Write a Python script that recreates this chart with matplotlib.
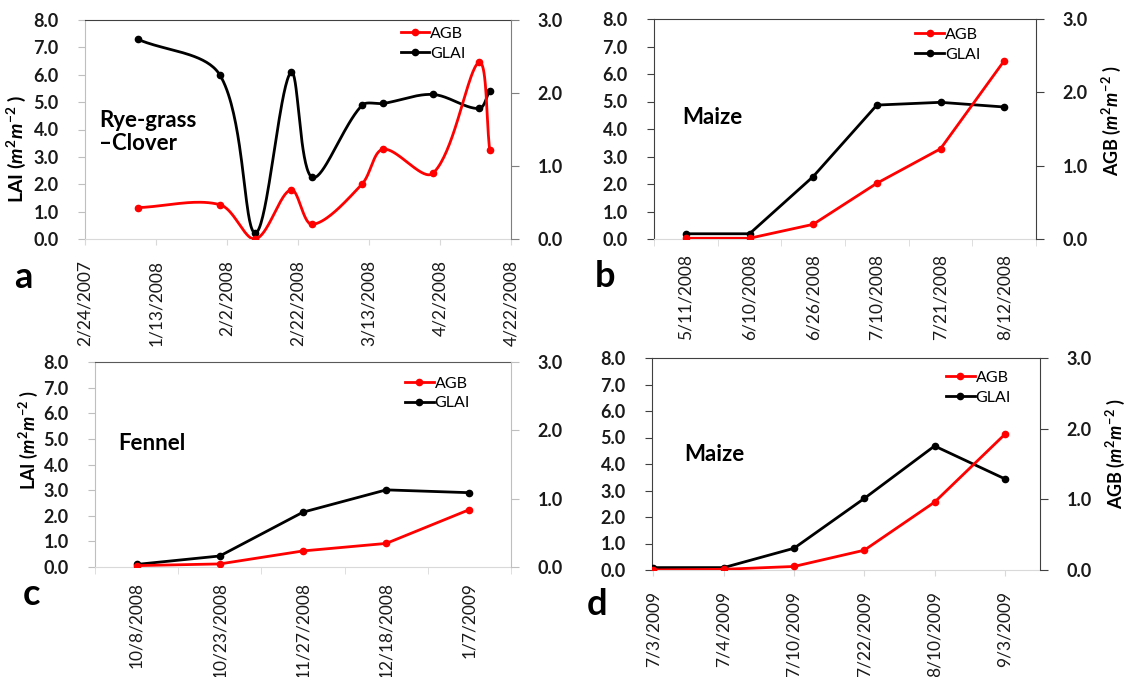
import numpy as np
import matplotlib
matplotlib.use('Agg')
import matplotlib.pyplot as plt
import matplotlib.dates as mdates
from matplotlib.lines import Line2D
from matplotlib.ticker import FixedLocator, FixedFormatter
from datetime import datetime

plt.rcParams['font.family'] = ['Lato', 'DejaVu Sans']
plt.rcParams['mathtext.fontset'] = 'custom'
plt.rcParams['mathtext.rm'] = 'Lato:bold'
plt.rcParams['mathtext.it'] = 'Lato:italic:bold'
plt.rcParams['mathtext.bf'] = 'Lato:bold'

# ---- data ----
# a: Rye-grass - Clover (date axis, smoothed lines)
a_dates = ['2008-01-08', '2008-01-31', '2008-02-10', '2008-02-20', '2008-02-26',
           '2008-03-11', '2008-03-17', '2008-03-31', '2008-04-13', '2008-04-16']
a_glai = [7.29, 5.99, 0.22, 6.09, 2.25, 4.88, 4.95, 5.28, 4.77, 5.42]
a_agb = [0.43, 0.47, 0.0, 0.675, 0.20, 0.75, 1.23, 0.90, 2.42, 1.22]
a_tick_dates = ['2007-12-24', '2008-01-13', '2008-02-02', '2008-02-22',
                '2008-03-13', '2008-04-02', '2008-04-22']
a_tick_labels = ['2/24/2007', '1/13/2008', '2/2/2008', '2/22/2008',
                 '3/13/2008', '4/2/2008', '4/22/2008']

# b: Maize 2008
b_dates = ['5/11/2008', '6/10/2008', '6/26/2008', '7/10/2008', '7/21/2008', '8/12/2008']
b_glai = [0.19, 0.19, 2.27, 4.87, 4.97, 4.80]
b_agb = [0.01, 0.01, 0.20, 0.76, 1.23, 2.43]

# c: Fennel
c_dates = ['10/8/2008', '10/23/2008', '11/27/2008', '12/18/2008', '1/7/2009']
c_glai = [0.10, 0.43, 2.14, 3.01, 2.90]
c_agb = [0.02, 0.045, 0.235, 0.345, 0.84]

# d: Maize 2009
d_dates = ['7/3/2009', '7/4/2009', '7/10/2009', '7/22/2009', '8/10/2009', '9/3/2009']
d_glai = [0.09, 0.09, 0.82, 2.70, 4.68, 3.44]
d_agb = [0.0, 0.01, 0.05, 0.28, 0.96, 1.92]

lai_ticks = [0, 1, 2, 3, 4, 5, 6, 7, 8]
agb_ticks = [0, 1, 2, 3]

RED = '#ff0000'
W, H = 1128, 677
fig = plt.figure(figsize=(W / 100, H / 100), dpi=100)


def px_axes(left, right, top, bottom):
    return fig.add_axes([left / W, (H - bottom) / H, (right - left) / W, (bottom - top) / H])


def smooth(ax, x, y, n=40):
    # bezier through the points in display space (spreadsheet-style smoothed line)
    p = ax.transData.transform(np.column_stack([x, y]))
    d = np.hypot(*np.diff(p, axis=0).T)
    t = np.linspace(0, 1, n)[:, None]
    out = []
    for i in range(len(p) - 1):
        p1, p2 = p[i], p[i + 1]
        if i == 0:
            c1 = p1 + (p2 - p1) / 3
        else:
            c1 = p1 + (p2 - p[i - 1]) * d[i] / (3 * (d[i - 1] + d[i]))
        if i == len(p) - 2:
            c2 = p2 - (p2 - p1) / 3
        else:
            c2 = p2 - (p[i + 2] - p1) * d[i] / (3 * (d[i] + d[i + 1]))
        seg = (1 - t) ** 3 * p1 + 3 * (1 - t) ** 2 * t * c1 + 3 * (1 - t) * t ** 2 * c2 + t ** 3 * p2
        out.append(seg)
    out = np.vstack(out)
    return ax.transData.inverted().transform(out).T


def style(ax, ax2, left_col, right_col, top_col):
    for a in (ax, ax2):
        a.set_facecolor('none')
        for s in a.spines.values():
            s.set_visible(False)
    ax.set_ylim(0, 8)
    ax2.set_ylim(0, 3)
    ax.set_yticks(lai_ticks, ['%.1f' % v for v in lai_ticks], fontweight='bold')
    ax2.set_yticks(agb_ticks, ['%.1f' % v for v in agb_ticks], fontweight='bold')
    ax.spines['left'].set_visible(True)
    ax.spines['left'].set_color(left_col)
    ax.spines['bottom'].set_visible(True)
    ax.spines['bottom'].set_color('#d9d9d9')
    ax.spines['top'].set_visible(True)
    ax.spines['top'].set_color(top_col)
    ax2.spines['right'].set_visible(True)
    ax2.spines['right'].set_color(right_col)
    ax.tick_params(axis='y', length=5, width=0.8, color=left_col, pad=14,
                   labelsize=13, labelcolor='#1a1a1a')
    ax2.tick_params(axis='y', length=6, width=0.8, color=right_col, pad=13,
                    labelsize=13, labelcolor='#1a1a1a')
    ax.tick_params(axis='x', labelsize=12.5, labelcolor='#1a1a1a', rotation=90, pad=11)


def legend(ax, hl, fx, fy):
    ax.legend(hl[0], hl[1], loc='upper left', bbox_to_anchor=(fx, fy), frameon=False,
              fontsize=11.5, handlelength=1.8, handletextpad=0.05, borderpad=0,
              labelspacing=0.35, borderaxespad=0)


def lbl(letter, x, y):
    fig.text(x / W, 1 - y / H, letter, fontsize=26, fontweight='bold', ha='center', va='baseline')


def cat_panel(ax, ax2, dates, glai, agb, xlim, between=True):
    x = np.arange(len(dates))
    l1, = ax.plot(x, glai, color='black', lw=2, marker='o', ms=4.5, zorder=3)
    l2, = ax2.plot(x, agb, color=RED, lw=2, marker='o', ms=4.5, zorder=3)
    ax.set_xlim(*xlim)
    ax.set_xticks(x)
    ax.set_xticklabels(dates)
    if between:
        ax.set_xticks(np.arange(len(dates) + 1) - 0.5, minor=True)
        ax.tick_params(axis='x', which='minor', length=5, color='#d9d9d9')
        ax.tick_params(axis='x', which='major', length=0)
    else:
        ax.tick_params(axis='x', which='major', length=4, color='#d9d9d9')
    return [l2, l1], ['AGB', 'GLAI']


# ---- panel a ----
axa = px_axes(85, 511, 20, 239)
axa2 = axa.twinx()
style(axa, axa2, '#bfbfbf', '#7f7f7f', '#404040')
xa = mdates.date2num([datetime.strptime(d, '%Y-%m-%d') for d in a_dates])
ta = mdates.date2num([datetime.strptime(d, '%Y-%m-%d') for d in a_tick_dates])
axa.set_xlim(ta[0], ta[-1])
axa.xaxis.set_major_locator(FixedLocator(ta))
axa.xaxis.set_major_formatter(FixedFormatter(a_tick_labels))
axa.tick_params(axis='x', length=4, color='#d9d9d9')
gx, gy = smooth(axa, xa, a_glai)
axa.plot(gx, gy, color='black', lw=2, zorder=3)
axa.plot(xa, a_glai, color='black', marker='o', ms=4.5, ls='none', zorder=3)
rx, ry = smooth(axa2, xa, a_agb)
axa2.plot(rx, ry, color=RED, lw=2, zorder=3)
axa2.plot(xa, a_agb, color=RED, marker='o', ms=4.5, ls='none', zorder=3)
h_agb = Line2D([], [], color=RED, lw=2, marker='o', ms=4.5)
h_glai = Line2D([], [], color='black', lw=2, marker='o', ms=4.5)
legend(axa2, ([h_agb, h_glai], ['AGB', 'GLAI']), 0.741, 0.97)
axa.set_ylabel(r'LAI ($m^{2}m^{-2}$ )', fontsize=14, fontweight='bold')
axa.yaxis.set_label_coords(-0.133, 0.41)
axa.text(0.033, 0.49, 'Rye-grass\n\u2013Clover', transform=axa.transAxes, fontsize=16,
         fontweight='bold', va='center', ha='left', linespacing=1.1)
lbl('a', 23, 288)

# ---- panel b ----
axb = px_axes(654, 1036, 19, 239)
axb2 = axb.twinx()
style(axb, axb2, '#404040', '#404040', '#404040')
hl = cat_panel(axb, axb2, b_dates, b_glai, b_agb, (-0.5, 5.5))
legend(axb2, hl, 0.684, 0.96)
axb2.set_ylabel(r'AGB ($m^{2}m^{-2}$ )', fontsize=13, fontweight='bold')
axb2.yaxis.set_label_coords(1.168, 0.536)
axb.text(0.075, 0.55, 'Maize', transform=axb.transAxes, fontsize=16,
         fontweight='bold', va='center', ha='left')
lbl('b', 605, 287)

# ---- panel c ----
axc = px_axes(95, 511, 362, 567)
axc2 = axc.twinx()
style(axc, axc2, '#bfbfbf', '#bfbfbf', '#595959')
hl = cat_panel(axc, axc2, c_dates, c_glai, c_agb, (-0.5, 4.5))
legend(axc2, hl, 0.745, 0.93)
axc.set_ylabel(r'LAI ($m^{2}m^{-2}$ )', fontsize=13, fontweight='bold')
axc.yaxis.set_label_coords(-0.133, 0.62)
axc.text(0.056, 0.60, 'Fennel', transform=axc.transAxes, fontsize=16,
         fontweight='bold', va='center', ha='left')
lbl('c', 32, 605)

# ---- panel d ----
axd = px_axes(652, 1040, 358, 570)
axd2 = axd.twinx()
style(axd, axd2, '#404040', '#404040', '#404040')
hl = cat_panel(axd, axd2, d_dates, d_glai, d_agb, (-0.02, 5.5), between=False)
legend(axd2, hl, 0.758, 0.94)
axd2.set_ylabel(r'AGB ($m^{2}m^{-2}$ )', fontsize=13, fontweight='bold')
axd2.yaxis.set_label_coords(1.165, 0.547)
axd.text(0.083, 0.545, 'Maize', transform=axd.transAxes, fontsize=16,
         fontweight='bold', va='center', ha='left')
lbl('d', 597, 615)

fig.savefig('out.png', dpi=100)
